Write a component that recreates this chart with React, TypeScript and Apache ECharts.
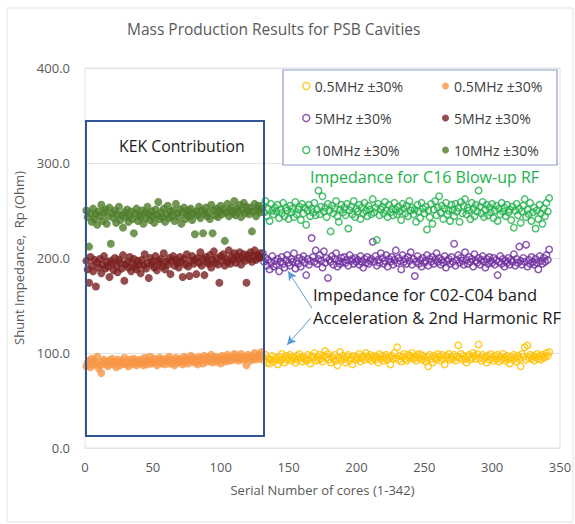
import React, { useEffect, useRef } from "react";
import * as echarts from "echarts";

// ---- Data ----
const kekStart = 1; // KEK cores: serial 1..130
const prodStart = 131; // other cores: serial 131..342

const kek05: number[] = [
  86, 90, 92, 85, 94, 88, 91, 89, 96, 84,
  87, 79, 91, 93, 88, 90, 86, 92, 89, 94,
  88, 91, 85, 93, 90, 87, 92, 89, 95, 88,
  91, 86, 93, 90, 88, 94, 91, 87, 92, 89,
  93, 90, 87, 95, 91, 88, 92, 96, 89, 91,
  94, 90, 87, 92, 95, 89, 93, 91, 88, 94,
  91, 96, 89, 93, 90, 87, 95, 92, 90, 94,
  92, 88, 96, 91, 94, 89, 93, 97, 91, 95,
  90, 93, 88, 96, 92, 94, 89, 97, 93, 91,
  95, 92, 98, 90, 94, 96, 91, 93, 95, 89,
  97, 93, 95, 91, 98, 94, 92, 96, 93, 99,
  94, 97, 92, 95, 99, 93, 96, 94, 87, 98,
  95, 92, 97, 94, 100, 93, 96, 98, 94, 101,
];

const kek5: number[] = [
  197, 188, 174, 201, 192, 186, 198, 170, 195, 190,
  199, 184, 193, 202, 189, 196, 191, 180, 197, 194,
  187, 200, 192, 185, 198, 195, 189, 203, 176, 193,
  196, 190, 201, 186, 194, 199, 191, 188, 197, 193,
  184, 198, 192, 204, 189, 195, 179, 200, 193, 196,
  190, 202, 187, 197, 194, 199, 191, 205, 188, 196,
  193, 200, 183, 197, 202, 192, 198, 195, 190, 201,
  196, 180, 199, 193, 204, 191, 181, 197, 202, 194,
  198, 183, 200, 195, 206, 192, 199, 182, 201, 196,
  194, 203, 190, 198, 207, 195, 200, 193, 174, 202,
  197, 204, 192, 199, 196, 208, 194, 201, 198, 205,
  195, 202, 199, 206, 193, 200, 204, 197, 174, 203,
  199, 206, 196, 202, 208, 198, 203, 200, 205, 201,
];

const kek10: number[] = [
  250, 243, 212, 247, 238, 252, 241, 246, 235, 249,
  244, 256, 239, 248, 251, 236, 244, 253, 215, 247,
  242, 250, 237, 246, 254, 240, 245, 232, 248, 243,
  251, 238, 244, 249, 241, 226, 247, 252, 239, 245,
  243, 250, 236, 248, 242, 254, 246, 240, 249, 244,
  237, 251, 245, 259, 241, 248, 243, 252, 238, 246,
  255, 242, 249, 244, 250, 239, 257, 247, 243, 251,
  236, 248, 253, 241, 246, 250, 244, 252, 240, 247,
  225, 249, 245, 254, 242, 250, 226, 247, 253, 244,
  248, 241, 256, 226, 250, 245, 252, 243, 249, 255,
  246, 251, 218, 248, 257, 244, 250, 253, 247, 260,
  245, 252, 249, 256, 243, 251, 258, 247, 254, 250,
  246, 253, 228, 249, 257, 244, 251, 255, 248, 252,
];

const prod05: number[] = [
  96, 92, 98, 90, 94, 89, 93, 97, 91, 95,
  93, 88, 96, 92, 99, 94, 90, 97, 93, 95,
  98, 92, 96, 94, 90, 97, 93, 99, 95, 91,
  96, 94, 92, 98, 93, 89, 97, 95, 100, 92,
  96, 93, 98, 94, 91, 97, 102, 95, 99, 93,
  90, 96, 94, 98, 92, 87, 95, 101, 93, 97,
  94, 90, 96, 98, 92, 95, 88, 97, 93, 96,
  94, 99, 91, 95, 97, 93, 100, 96, 94, 98,
  92, 95, 97, 93, 96, 90, 99, 94, 97, 92,
  95, 98, 93, 96, 88, 97, 94, 100, 95, 106,
  93, 97, 91, 96, 99, 94, 92, 98, 95, 97,
  100, 94, 96, 92, 98, 95, 99, 93, 97, 94,
  91, 96, 86, 98, 94, 90, 97, 95, 93, 99,
  96, 92, 98, 94, 88, 97, 95, 99, 93, 96,
  94, 98, 92, 96, 108, 95, 99, 93, 97, 94,
  90, 96, 98, 93, 95, 100, 97, 94, 99, 109,
  95, 92, 98, 94, 96, 90, 97, 93, 99, 95,
  92, 97, 94, 98, 91, 96, 93, 99, 95, 92,
  97, 94, 89, 96, 93, 98, 95, 91, 97, 94,
  86, 99, 96, 106, 93, 108, 95, 98, 94, 97,
  92, 96, 99, 94, 97, 93, 98, 95, 96, 100,
  97, 101,
];

const prod5: number[] = [
  205, 196, 200, 192, 198, 188, 195, 202, 191, 197,
  193, 199, 186, 196, 201, 194, 190, 198, 203, 195,
  192, 199, 196, 205, 189, 197, 194, 200, 191, 198,
  202, 195, 182, 199, 193, 197, 221, 201, 196, 208,
  194, 199, 203, 197, 190, 207, 195, 200, 179, 198,
  196, 202, 193, 199, 205, 191, 197, 194, 200, 196,
  201, 195, 198, 192, 203, 197, 199, 194, 200, 196,
  198, 193, 202, 196, 190, 199, 195, 201, 194, 197,
  199, 217, 196, 202, 192, 198, 195, 205, 200, 194,
  197, 203, 191, 199, 196, 201, 193, 198, 208, 195,
  200, 197, 188, 203, 196, 199, 194, 201, 197, 206,
  193, 199, 181, 196, 202, 194, 198, 191, 200, 195,
  197, 203, 192, 199, 196, 201, 194, 198, 205, 196,
  200, 193, 198, 195, 202, 190, 197, 199, 194, 201,
  196, 215, 192, 198, 203, 195, 200, 197, 193, 206,
  198, 194, 201, 196, 199, 191, 204, 197, 195, 200,
  193, 198, 202, 196, 190, 199, 194, 201, 197, 195,
  200, 193, 198, 182, 196, 202, 194, 199, 191, 197,
  195, 200, 193, 198, 196, 204, 192, 199, 195, 212,
  197, 193, 200, 196, 214, 191, 198, 194, 201, 196,
  193, 199, 195, 188, 202, 197, 194, 200, 196, 203,
  198, 209,
];

const prod10: number[] = [
  255, 248, 260, 244, 252, 239, 257, 250, 246, 253,
  249, 256, 242, 251, 247, 258, 244, 253, 250, 241,
  255, 248, 252, 243, 259, 246, 251, 254, 240, 257,
  247, 253, 235, 250, 256, 244, 252, 248, 258, 245,
  251, 271, 246, 254, 265, 249, 253, 243, 257, 250,
  228, 255, 247, 252, 260, 244, 238, 251, 256, 248,
  253, 245, 257, 231, 250, 254, 246, 260, 243, 252,
  249, 256, 241, 253, 247, 258, 250, 244, 255, 251,
  246, 262, 248, 253, 219, 257, 245, 251, 254, 247,
  259, 250, 243, 256, 248, 252, 245, 258, 251, 246,
  254, 249, 240, 257, 252, 247, 255, 244, 260, 250,
  253, 246, 251, 238, 256, 249, 242, 258, 252, 247,
  254, 230, 250, 243, 257, 236, 251, 260, 245, 253,
  265, 248, 255, 241, 252, 258, 246, 250, 239, 256,
  251, 244, 257, 249, 253, 238, 259, 247, 255, 262,
  246, 253, 250, 241, 258, 252, 244, 256, 249, 271,
  254, 247, 259, 243, 251, 256, 245, 253, 248, 257,
  242, 250, 255, 239, 252, 246, 258, 249, 253, 244,
  256, 248, 251, 240, 254, 232, 250, 257, 245, 252,
  237, 249, 255, 262, 243, 251, 246, 258, 239, 248,
  253, 231, 250, 241, 256, 247, 236, 252, 244, 258,
  249, 263,
];

const seriesLabels: Record<string, string> = {
  open05: "0.5MHz ±30%",
  fill05: "0.5MHz ±30%",
  open5: "5MHz ±30%",
  fill5: "5MHz ±30%",
  open10: "10MHz ±30%",
  fill10: "10MHz ±30%",
};

const seriesColors: Record<string, string> = {
  open05: "#ffc000",
  fill05: "#f79646",
  open5: "#7030a0",
  fill5: "#7a1f1f",
  open10: "#22b14c",
  fill10: "#4f7d2a",
};

// annotation arrows [start, end] in data coordinates
const arrows: [number, number][][] = [
  [[167.3, 147], [149.6, 186]],
  [[166.5, 137], [148.9, 108.5]],
];

const FONT = "'Open Sans', 'Noto Sans', sans-serif";

function toPairs(start: number, ys: number[]) {
  return ys.map((y, i) => [start + i, y]);
}

function openSeries(key: string, start: number, ys: number[], extra: any = {}) {
  return {
    type: "scatter",
    name: key,
    data: toPairs(start, ys),
    symbol: "circle",
    symbolSize: 6.5,
    itemStyle: {
      color: "rgba(255,255,255,0)",
      borderColor: seriesColors[key],
      borderWidth: 1.5,
    },
    emphasis: { disabled: true },
    ...extra,
  };
}

function filledSeries(key: string, start: number, ys: number[]) {
  return {
    type: "scatter",
    name: key,
    data: toPairs(start, ys),
    symbol: "circle",
    symbolSize: 8,
    itemStyle: { color: seriesColors[key] },
    emphasis: { disabled: true },
  };
}

function legendItem(key: string, open: boolean) {
  return {
    name: key,
    icon: "circle",
    itemStyle: open
      ? { color: "#ffffff", borderColor: seriesColors[key], borderWidth: 1.5 }
      : { color: seriesColors[key], borderWidth: 0 },
  };
}

export default function App() {
  const ref = useRef<HTMLDivElement>(null);

  useEffect(() => {
    document.body.style.margin = "0";
    if (!ref.current) return;
    const chart = echarts.init(ref.current, undefined, { renderer: "svg" });

    const legendCommon = {
      orient: "vertical",
      itemWidth: 7,
      itemHeight: 7,
      itemGap: 18,
      selectedMode: false,
      formatter: (n: string) => seriesLabels[n],
      textStyle: { fontSize: 14, color: "#404040", fontFamily: FONT },
    };

    const option: any = {
      animation: false,
      backgroundColor: "#ffffff",
      textStyle: { fontFamily: FONT },
      title: {
        text: "Mass Production Results for PSB Cavities",
        left: 122,
        top: 16,
        textStyle: { fontSize: 15.5, fontWeight: "normal", color: "#595959", fontFamily: FONT },
      },
      legend: [
        {
          ...legendCommon,
          left: 297,
          top: 74,
          data: [legendItem("open05", true), legendItem("open5", true), legendItem("open10", true)],
        },
        {
          ...legendCommon,
          left: 437,
          top: 74,
          data: [legendItem("fill05", false), legendItem("fill5", false), legendItem("fill10", false)],
        },
      ],
      grid: {
        left: 85,
        right: 15,
        top: 68,
        bottom: 76,
        show: true,
        borderColor: "#e3e3e3",
        borderWidth: 1,
      },
      xAxis: {
        type: "value",
        min: 0,
        max: 350,
        interval: 50,
        name: "Serial Number of cores (1-342)",
        nameLocation: "middle",
        nameGap: 35,
        nameTextStyle: { fontSize: 13, color: "#595959", fontFamily: FONT },
        axisLine: { show: false },
        axisTick: { show: false },
        splitLine: { show: false },
        axisLabel: { fontSize: 13, color: "#595959", margin: 12, fontFamily: FONT },
      },
      yAxis: {
        type: "value",
        min: 0,
        max: 400,
        interval: 100,
        name: "Shunt Impedance,  Rp (Ohm)",
        nameLocation: "middle",
        nameGap: 56,
        nameTextStyle: { fontSize: 13, color: "#595959", fontFamily: FONT },
        axisLine: { show: false },
        axisTick: { show: false },
        splitLine: { lineStyle: { color: "#e3e3e3", width: 1 } },
        axisLabel: {
          fontSize: 13,
          color: "#595959",
          margin: 15,
          fontFamily: FONT,
          formatter: (v: number) => v.toFixed(1),
        },
      },
      series: [
        openSeries("open05", prodStart, prod05, {
          markLine: {
            silent: true,
            symbol: ["none", "arrow"],
            symbolSize: [7, 9],
            label: { show: false },
            lineStyle: { color: "#5b9bd5", width: 1, type: "solid" },
            emphasis: { disabled: true },
            data: arrows.map(([a, b]) => [{ coord: a }, { coord: b }]),
          },
        }),
        filledSeries("fill05", kekStart, kek05),
        openSeries("open5", prodStart, prod5),
        filledSeries("fill5", kekStart, kek5),
        openSeries("open10", prodStart, prod10),
        filledSeries("fill10", kekStart, kek10),
      ],
      graphic: [
        {
          type: "rect",
          silent: true,
          shape: { x: 7, y: 8, width: 566, height: 514 },
          style: { fill: "none", stroke: "#e3e3e3", lineWidth: 1 },
          z: -1,
        },
        {
          type: "rect",
          silent: true,
          shape: { x: 283, y: 70, width: 274, height: 95 },
          style: { fill: "#ffffff", stroke: "#8e9ccc", lineWidth: 1.2 },
          z: 1,
        },
        {
          type: "rect",
          silent: true,
          shape: { x: 86, y: 121, width: 178, height: 315 },
          style: { fill: "none", stroke: "#2f5597", lineWidth: 2 },
          z: 10,
        },
        {
          type: "text",
          silent: true,
          left: 119,
          top: 138,
          style: { text: "KEK Contribution", fontSize: 15.8, fill: "#1a1a1a", fontFamily: FONT },
          z: 10,
        },
        {
          type: "text",
          silent: true,
          left: 310,
          top: 169,
          style: { text: "Impedance for C16 Blow-up RF", fontSize: 16, fill: "#22b14c", fontFamily: FONT },
          z: 10,
        },
        {
          type: "text",
          silent: true,
          left: 313,
          top: 286,
          style: { text: "Impedance for C02-C04 band", fontSize: 16.5, fill: "#1a1a1a", fontFamily: FONT },
          z: 10,
        },
        {
          type: "text",
          silent: true,
          left: 313,
          top: 309,
          style: { text: "Acceleration & 2nd Harmonic RF", fontSize: 16.5, fill: "#1a1a1a", fontFamily: FONT },
          z: 10,
        },
      ],
    };

    chart.setOption(option);
    return () => chart.dispose();
  }, []);

  return <div ref={ref} style={{ width: 575, height: 524 }} />;
}
